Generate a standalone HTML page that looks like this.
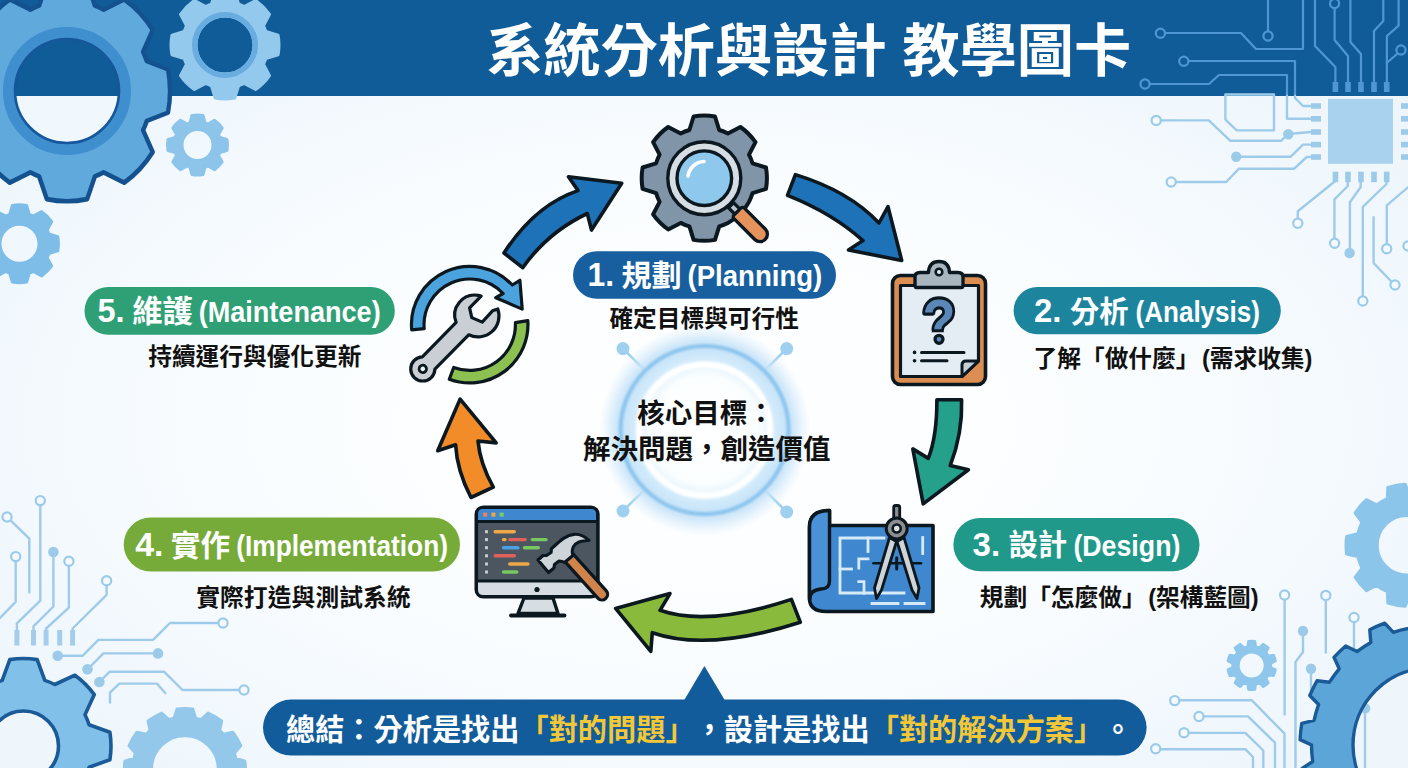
<!DOCTYPE html>
<html lang="zh-Hant">
<head>
<meta charset="utf-8">
<title>系統分析與設計 教學圖卡</title>
<style>
html,body{margin:0;padding:0;}
body{width:1408px;height:768px;overflow:hidden;background:#f4f9fd;font-family:"Liberation Sans","Noto Sans CJK TC",sans-serif;}
svg{display:block;position:absolute;left:0;top:0;}
text{font-family:"Liberation Sans","Noto Sans CJK TC",sans-serif;text-spacing-trim:space-all;}
.t{font-weight:700;fill:#fff;}
.pill{font-weight:700;fill:#fff;}

.sub{font-size:23.7px;font-weight:700;fill:#111;}
.core{font-size:27.5px;font-weight:700;fill:#111;}
.sum{font-size:29.2px;font-weight:700;fill:#fff;}
.y{fill:#f2c838;}
.tr{fill:none;stroke:#9fcbea;stroke-width:2.4;stroke-linecap:round;stroke-linejoin:round;}
.trh{fill:none;stroke:#4f97d3;stroke-width:2.2;stroke-linecap:round;stroke-linejoin:round;}
.no{fill:#f4f9fd;stroke:#9ccbea;stroke-width:2.2;}
.nf{fill:#9ccbea;stroke:none;}
.noh{fill:#105c99;stroke:#4f97d3;stroke-width:2.2;}
.nfh{fill:#4f97d3;}
.ol{stroke:#0c1820;stroke-linejoin:round;stroke-linecap:round;}
</style>
</head>
<body>
<svg width="1408" height="768" viewBox="0 0 1408 768">
<defs>
<radialGradient id="bg" cx="50%" cy="55%" r="60%">
<stop offset="0" stop-color="#ffffff"/><stop offset="0.5" stop-color="#fafdff"/><stop offset="1" stop-color="#eef6fc"/>
</radialGradient>
<radialGradient id="glow" cx="50%" cy="50%" r="50%">
<stop offset="0" stop-color="#ffffff" stop-opacity="1"/>
<stop offset="0.5" stop-color="#fbfeff" stop-opacity="1"/>
<stop offset="0.6" stop-color="#eaf6fd" stop-opacity="1"/>
<stop offset="0.67" stop-color="#d3ebfb" stop-opacity="1"/>
<stop offset="0.79" stop-color="#c4e2f8" stop-opacity="1"/>
<stop offset="0.85" stop-color="#c8e4f9" stop-opacity="0.8"/>
<stop offset="1" stop-color="#d8ecfa" stop-opacity="0"/>
</radialGradient>
<filter id="bl" x="-20%" y="-20%" width="140%" height="140%"><feGaussianBlur stdDeviation="1"/></filter>
<linearGradient id="hole" gradientUnits="userSpaceOnUse" x1="0" y1="0" x2="0" y2="768"><stop offset="0.125" stop-color="#105c99"/><stop offset="0.125" stop-color="#f1f8fd"/></linearGradient>
</defs>
<rect width="1408" height="768" fill="url(#bg)"/>
<rect width="1408" height="96" fill="#105c99"/>

<g id="circuit-tr">
<g class="trh">
<path d="M1165 33H1241L1256 49H1303V0"/>
<path d="M1268 31V0"/>
<path d="M1189 61H1295V96"/>
<path d="M1150 84H1209L1219 75H1287V96"/>
<path d="M1334.6 8V40L1348 56V82"/>
<path d="M1315 0V46L1335.4 67V82"/>
<path d="M1350.4 0V42L1361 54V82"/>
<path d="M1383.3 0V21L1374 31V82"/>
<path d="M1398.6 0V25.7L1386.9 36V82"/>
<path d="M1397 54L1386.7 63"/>
</g>
<rect x="1332.6" y="82" width="5.6" height="10" fill="#4f97d3"/>
<rect x="1345.2" y="82" width="5.6" height="10" fill="#4f97d3"/>
<rect x="1358.2" y="82" width="5.6" height="10" fill="#4f97d3"/>
<rect x="1371.2" y="82" width="5.6" height="10" fill="#4f97d3"/>
<rect x="1383.9" y="82" width="5.6" height="10" fill="#4f97d3"/>
<circle class="noh" cx="1160.4" cy="33.3" r="4.6"/>
<circle class="noh" cx="1268" cy="36" r="4.6"/>
<circle class="noh" cx="1183.8" cy="61.2" r="4.6"/>
<circle class="noh" cx="1145" cy="84" r="4.6"/>
<circle class="noh" cx="1334.6" cy="3.5" r="4.6"/>
<circle class="noh" cx="1401" cy="50" r="4.6"/>
<g class="tr">
<path d="M1295 96V98L1303 106H1311"/>
<path d="M1287 96V118.8H1311"/>
<path d="M1225.4 94.5V119.6L1236.7 130.4H1274V94.5Z"/>
<path d="M1161 120.4H1208.8L1230.4 140.8H1281L1288 134L1311 132"/>
<path d="M1236 156.7H1290.8L1303 144.6H1311"/>
<path d="M1176 182H1226.2L1238.8 168.8H1294L1306.7 157H1311"/>
<path d="M1335.3 181L1297.8 211.3V218.6"/>
<path d="M1347.8 181V186L1334.4 199.3V239"/>
<path d="M1360.7 181V187L1349.9 202.3V250"/>
<path d="M1386.5 181V184L1362.8 206.8V296.4"/>
<path d="M1373.6 217.2V263L1391.8 282"/>
<path d="M1408 187.3L1386.8 205.3V244"/>
</g>
<rect x="1328" y="98.8" width="65" height="65" fill="#a9d2ef"/>
<rect x="1311" y="103.2" width="10" height="5.6" fill="#9ccbea"/>
<rect x="1401" y="103.2" width="8" height="5.6" fill="#9ccbea"/>
<rect x="1311" y="116" width="10" height="5.6" fill="#9ccbea"/>
<rect x="1401" y="116" width="8" height="5.6" fill="#9ccbea"/>
<rect x="1311" y="129.2" width="10" height="5.6" fill="#9ccbea"/>
<rect x="1401" y="129.2" width="8" height="5.6" fill="#9ccbea"/>
<rect x="1311" y="141.8" width="10" height="5.6" fill="#9ccbea"/>
<rect x="1401" y="141.8" width="8" height="5.6" fill="#9ccbea"/>
<rect x="1311" y="154.2" width="10" height="5.6" fill="#9ccbea"/>
<rect x="1401" y="154.2" width="8" height="5.6" fill="#9ccbea"/>
<rect x="1332.6" y="171.7" width="5.6" height="10.5" fill="#9ccbea"/>
<rect x="1345.2" y="171.7" width="5.6" height="10.5" fill="#9ccbea"/>
<rect x="1358.2" y="171.7" width="5.6" height="10.5" fill="#9ccbea"/>
<rect x="1371.2" y="171.7" width="5.6" height="10.5" fill="#9ccbea"/>
<rect x="1383.9" y="171.7" width="5.6" height="10.5" fill="#9ccbea"/>
<circle class="no" cx="1156.2" cy="120.4" r="4.6"/>
<circle class="nf" cx="1288.3" cy="134.2" r="5.2"/>
<circle class="nf" cx="1236.2" cy="156.7" r="5.2"/>
<circle class="no" cx="1171.2" cy="182" r="4.6"/>
<circle class="no" cx="1297.8" cy="223.2" r="4.6"/>
<circle class="no" cx="1334.6" cy="243.3" r="4.6"/>
<circle class="nf" cx="1349.6" cy="253" r="5.2"/>
<circle class="no" cx="1362.8" cy="301" r="4.6"/>
<circle class="no" cx="1395" cy="285" r="4.6"/>
<circle class="no" cx="1386.7" cy="248.8" r="4.6"/>
<circle class="no" cx="1408" cy="246" r="4.6"/>
</g>
<g id="circuit-bl">
<g class="tr">
<path d="M40.3 506V600.6L16.9 623.4V630"/>
<path d="M10.8 520.6L29.3 538.6V592.4"/>
<path d="M15.7 562V601.8L0 618"/>
<path d="M53.4 552V606.5L33.5 626.4V630"/>
<path d="M68.9 566.5V607.7L46.1 628.5V630"/>
<path d="M106.6 586V594.8L72.6 628.5V630"/>
<path d="M57.7 655.8H82.5L98.4 639.9H153L170 623H218"/>
<path d="M87.5 669.3L103.4 653.4H154"/>
<path d="M99.4 682L109.7 671.7H164L182.5 690H239"/>
<path d="M110 702.5V692.6L119.3 683.6H157L165.4 693.2"/>
</g>
<rect x="14.4" y="630" width="5" height="15.5" fill="#a3cdeb"/>
<rect x="31" y="630" width="5" height="15.5" fill="#a3cdeb"/>
<rect x="43.6" y="630" width="5" height="15.5" fill="#a3cdeb"/>
<rect x="57.2" y="630" width="5" height="15.5" fill="#a3cdeb"/>
<rect x="70.1" y="630" width="5" height="15.5" fill="#a3cdeb"/>
<circle class="no" cx="40.3" cy="500.6" r="4.6"/>
<circle class="no" cx="7" cy="517" r="4.6"/>
<circle class="no" cx="15.7" cy="556.6" r="4.6"/>
<circle class="nf" cx="53.4" cy="552" r="5.3"/>
<circle class="no" cx="68.9" cy="561.3" r="4.6"/>
<circle class="no" cx="106.6" cy="580.7" r="4.6"/>
<circle class="nf" cx="57.7" cy="655.8" r="5.3"/>
<circle class="no" cx="223" cy="623" r="4.6"/>
<circle class="nf" cx="87.5" cy="669.3" r="5.3"/>
<circle class="nf" cx="158" cy="653.4" r="5.3"/>
<circle class="nf" cx="99.4" cy="682" r="5.3"/>
<circle class="no" cx="244" cy="690" r="4.6"/>
</g>
<g id="circuit-br">
<g class="tr">
<path d="M1284.6 600V714.6"/>
<path d="M1325.8 600V652.5"/>
<path d="M1354 622V648.6"/>
<path d="M1303 631V652L1295.5 662V768"/>
<path d="M1311 668.8V690"/>
<path d="M1365 707.6V768"/>
<path d="M1180 700.2H1251.7L1284.5 733.7V768"/>
<path d="M1204 716.4H1248L1275 742.7V768"/>
<path d="M1189 732.9H1245.3L1263.3 750.5V768"/>
<path d="M1160.5 749.2H1245.3L1253 757V768"/>
</g>
<circle class="no" cx="1284.6" cy="595" r="4.6"/>
<circle class="no" cx="1325.8" cy="595.4" r="4.6"/>
<circle class="no" cx="1354" cy="617.5" r="4.6"/>
<circle class="nf" cx="1303" cy="631" r="5.2"/>
<circle class="nf" cx="1311" cy="668.8" r="5.2"/>
<circle class="nf" cx="1365.2" cy="708.4" r="5.2"/>
<circle class="no" cx="1174.7" cy="700.6" r="4.6"/>
<circle class="no" cx="1199" cy="716.5" r="4.6"/>
<circle class="no" cx="1184" cy="732.8" r="4.6"/>
<circle class="no" cx="1155.7" cy="748.7" r="4.6"/>
</g>
<g id="gears">
<g transform="translate(67 91) scale(1 1.07) translate(-67 -91)">
<path d="M146.8 63.1L168 70.8A103 103 0 0 1 168 111.2L146.8 118.9A84.5 84.5 0 0 1 143.1 127.6L152.7 148.1A103 103 0 0 1 124.1 176.7L103.6 167.1A84.5 84.5 0 0 1 94.9 170.8L87.2 192A103 103 0 0 1 46.8 192L39.1 170.8A84.5 84.5 0 0 1 30.4 167.1L9.9 176.7A103 103 0 0 1 -18.7 148.1L-9.1 127.6A84.5 84.5 0 0 1 -12.8 118.9L-34 111.2A103 103 0 0 1 -34 70.8L-12.8 63.1A84.5 84.5 0 0 1 -9.1 54.4L-18.7 33.9A103 103 0 0 1 9.9 5.3L30.4 14.9A84.5 84.5 0 0 1 39.1 11.2L46.8 -10A103 103 0 0 1 87.2 -10L94.9 11.2A84.5 84.5 0 0 1 103.6 14.9L124.1 5.3A103 103 0 0 1 152.7 33.9L143.1 54.4A84.5 84.5 0 0 1 146.8 63.1Z" fill="#60a9dd" stroke="#14528f" stroke-width="4.4" stroke-linejoin="round" fill-rule="evenodd"/>
</g>
<circle cx="67" cy="91" r="52" fill="url(#hole)"/>
<circle cx="67" cy="91" r="58" fill="none" stroke="#3f8fcf" stroke-width="12"/>
<circle cx="67" cy="91" r="52" fill="none" stroke="#15579a" stroke-width="2.6"/>
<path d="M265.8 31.4L278.1 35.2A54 54 0 0 1 278.1 54.8L265.8 58.6A43 43 0 0 1 263.5 64.2L269.5 75.6A54 54 0 0 1 255.6 89.5L244.2 83.5A43 43 0 0 1 238.6 85.8L234.8 98.1A54 54 0 0 1 215.2 98.1L211.4 85.8A43 43 0 0 1 205.8 83.5L194.4 89.5A54 54 0 0 1 180.5 75.6L186.5 64.2A43 43 0 0 1 184.2 58.6L171.9 54.8A54 54 0 0 1 171.9 35.2L184.2 31.4A43 43 0 0 1 186.5 25.8L180.5 14.4A54 54 0 0 1 194.4 0.5L205.8 6.5A43 43 0 0 1 211.4 4.2L215.2 -8.1A54 54 0 0 1 234.8 -8.1L238.6 4.2A43 43 0 0 1 244.2 6.5L255.6 0.5A54 54 0 0 1 269.5 14.4L263.5 25.8A43 43 0 0 1 265.8 31.4ZM254 45A29 29 0 1 0 196 45A29 29 0 1 0 254 45Z" fill="#93c9ed" stroke="#93c9ed" stroke-width="3" stroke-linejoin="round" fill-rule="evenodd"/>
<circle cx="225" cy="45" r="30.25" fill="none" stroke="#69ade0" stroke-width="5.5"/>
<path d="M219.8 137.5L227 139.5A30 30 0 0 1 227 150.5L219.8 152.5A23.5 23.5 0 0 1 218.5 155.5L222.2 162A30 30 0 0 1 214.5 169.7L208 166A23.5 23.5 0 0 1 205 167.3L203 174.5A30 30 0 0 1 192 174.5L190 167.3A23.5 23.5 0 0 1 187 166L180.5 169.7A30 30 0 0 1 172.8 162L176.5 155.5A23.5 23.5 0 0 1 175.2 152.5L168 150.5A30 30 0 0 1 168 139.5L175.2 137.5A23.5 23.5 0 0 1 176.5 134.5L172.8 128A30 30 0 0 1 180.5 120.3L187 124A23.5 23.5 0 0 1 190 122.7L192 115.5A30 30 0 0 1 203 115.5L205 122.7A23.5 23.5 0 0 1 208 124L214.5 120.3A30 30 0 0 1 222.2 128L218.5 134.5A23.5 23.5 0 0 1 219.8 137.5ZM213 145A15.5 15.5 0 1 0 182 145A15.5 15.5 0 1 0 213 145Z" fill="#8cc4ea" stroke="#8cc4ea" stroke-width="3" stroke-linejoin="round" fill-rule="evenodd"/>
<path d="M48.9 234L57.8 236.7A39 39 0 0 1 57.8 250.9L48.9 253.6A31 31 0 0 1 47.2 257.6L51.6 265.9A39 39 0 0 1 41.6 275.9L33.3 271.5A31 31 0 0 1 29.3 273.2L26.6 282.1A39 39 0 0 1 12.4 282.1L9.7 273.2A31 31 0 0 1 5.7 271.5L-2.6 275.9A39 39 0 0 1 -12.6 265.9L-8.2 257.6A31 31 0 0 1 -9.9 253.6L-18.8 250.9A39 39 0 0 1 -18.8 236.7L-9.9 234A31 31 0 0 1 -8.2 230L-12.6 221.7A39 39 0 0 1 -2.6 211.7L5.7 216.1A31 31 0 0 1 9.7 214.4L12.4 205.5A39 39 0 0 1 26.6 205.5L29.3 214.4A31 31 0 0 1 33.3 216.1L41.6 211.7A39 39 0 0 1 51.6 221.7L47.2 230A31 31 0 0 1 48.9 234ZM39 243.8A19.5 19.5 0 1 0 0 243.8A19.5 19.5 0 1 0 39 243.8Z" fill="#7dbde8" stroke="#7dbde8" stroke-width="3" stroke-linejoin="round" fill-rule="evenodd"/>
<path d="M1357.8 556.6L1346.6 554A61 61 0 0 1 1346.6 536.4L1357.8 533.8A50.5 50.5 0 0 1 1362 522.3L1355.1 513.1A61 61 0 0 1 1366.4 499.7L1376.6 504.9A50.5 50.5 0 0 1 1387.3 498.7L1387.8 487.3A61 61 0 0 1 1405.2 484.2L1409.6 494.8A50.5 50.5 0 0 1 1421.8 496.9L1429.6 488.5A61 61 0 0 1 1444.8 497.3L1441.4 508.3A50.5 50.5 0 0 1 1449.4 517.7L1460.7 516.3A61 61 0 0 1 1466.7 532.8L1457.1 539A50.5 50.5 0 0 1 1457.1 551.4L1466.7 557.6A61 61 0 0 1 1460.7 574.1L1449.4 572.7A50.5 50.5 0 0 1 1441.4 582.1L1444.8 593.1A61 61 0 0 1 1429.6 601.9L1421.8 593.5A50.5 50.5 0 0 1 1409.6 595.6L1405.2 606.2A61 61 0 0 1 1387.8 603.1L1387.3 591.7A50.5 50.5 0 0 1 1376.6 585.5L1366.4 590.7A61 61 0 0 1 1355.1 577.3L1362 568.1A50.5 50.5 0 0 1 1357.8 556.6ZM1436.8 545.2A29.8 29.8 0 1 0 1377.2 545.2A29.8 29.8 0 1 0 1436.8 545.2Z" fill="#8cc5ea" stroke="#8cc5ea" stroke-width="3" stroke-linejoin="round" fill-rule="evenodd"/>
<path d="M1247.3 646.4L1248.3 641.1A24.5 24.5 0 0 1 1255.1 641.1L1256.1 646.4A19.5 19.5 0 0 1 1259.3 647.5L1263.2 643.8A24.5 24.5 0 0 1 1268.7 647.8L1266.4 652.6A19.5 19.5 0 0 1 1268.4 655.4L1273.7 654.7A24.5 24.5 0 0 1 1275.8 661.1L1271.1 663.7A19.5 19.5 0 0 1 1271.1 667.1L1275.8 669.7A24.5 24.5 0 0 1 1273.7 676.1L1268.4 675.4A19.5 19.5 0 0 1 1266.4 678.2L1268.7 683A24.5 24.5 0 0 1 1263.2 687L1259.3 683.3A19.5 19.5 0 0 1 1256.1 684.4L1255.1 689.7A24.5 24.5 0 0 1 1248.3 689.7L1247.3 684.4A19.5 19.5 0 0 1 1244.1 683.3L1240.2 687A24.5 24.5 0 0 1 1234.7 683L1237 678.2A19.5 19.5 0 0 1 1235 675.4L1229.7 676.1A24.5 24.5 0 0 1 1227.6 669.7L1232.3 667.1A19.5 19.5 0 0 1 1232.3 663.7L1227.6 661.1A24.5 24.5 0 0 1 1229.7 654.7L1235 655.4A19.5 19.5 0 0 1 1237 652.6L1234.7 647.8A24.5 24.5 0 0 1 1240.2 643.8L1244.1 647.5A19.5 19.5 0 0 1 1247.3 646.4ZM1264.7 665.4A13 13 0 1 0 1238.7 665.4A13 13 0 1 0 1264.7 665.4Z" fill="#8fc6ec" stroke="#8fc6ec" stroke-width="2" stroke-linejoin="round" fill-rule="evenodd"/>
<path d="M1548.5 745L1559.9 750.4A130 130 0 0 1 1558.2 766.7L1545.9 769.6A118.5 118.5 0 0 1 1541.4 785.5L1550.2 794.5A130 130 0 0 1 1543 809.2L1530.5 807.8A118.5 118.5 0 0 1 1520.8 821.2L1526 832.7A130 130 0 0 1 1514.3 844L1503 838.4A118.5 118.5 0 0 1 1489.2 847.6L1490.2 860.2A130 130 0 0 1 1475.3 866.8L1466.6 857.7A118.5 118.5 0 0 1 1450.6 861.7L1447.2 873.9A130 130 0 0 1 1430.9 875L1425.9 863.4A118.5 118.5 0 0 1 1409.4 861.7L1402.1 872A130 130 0 0 1 1386.4 867.5L1385.6 854.9A118.5 118.5 0 0 1 1370.8 847.6L1360.3 854.8A130 130 0 0 1 1347.1 845.2L1350.7 833.1A118.5 118.5 0 0 1 1339.2 821.2L1327 824.3A130 130 0 0 1 1317.9 810.8L1325.4 800.6A118.5 118.5 0 0 1 1318.6 785.5L1306.1 784.3A130 130 0 0 1 1302.1 768.5L1312.7 761.5A118.5 118.5 0 0 1 1311.5 745L1300.1 739.6A130 130 0 0 1 1301.8 723.3L1314.1 720.4A118.5 118.5 0 0 1 1318.6 704.5L1309.8 695.5A130 130 0 0 1 1317 680.8L1329.5 682.2A118.5 118.5 0 0 1 1339.2 668.8L1334 657.3A130 130 0 0 1 1345.7 646L1357 651.6A118.5 118.5 0 0 1 1370.8 642.4L1369.8 629.8A130 130 0 0 1 1384.7 623.2L1393.4 632.3A118.5 118.5 0 0 1 1409.4 628.3L1412.8 616.1A130 130 0 0 1 1429.1 615L1434.1 626.6A118.5 118.5 0 0 1 1450.6 628.3L1457.9 618A130 130 0 0 1 1473.6 622.5L1474.4 635.1A118.5 118.5 0 0 1 1489.2 642.4L1499.7 635.2A130 130 0 0 1 1512.9 644.8L1509.3 656.9A118.5 118.5 0 0 1 1520.8 668.8L1533 665.7A130 130 0 0 1 1542.1 679.2L1534.6 689.4A118.5 118.5 0 0 1 1541.4 704.5L1553.9 705.7A130 130 0 0 1 1557.9 721.5L1547.3 728.5A118.5 118.5 0 0 1 1548.5 745ZM1507 745A77 77 0 1 0 1353 745A77 77 0 1 0 1507 745Z" fill="#5ba5d8" stroke="#1a5a96" stroke-width="3.4" stroke-linejoin="round" fill-rule="evenodd"/>
<path d="M89.1 724.7L109.9 732.3A87.5 87.5 0 0 1 109.9 759.7L89.1 767.3A69 69 0 0 1 85 777.3L94.3 797.4A87.5 87.5 0 0 1 74.9 816.8L54.8 807.5A69 69 0 0 1 44.8 811.6L37.2 832.4A87.5 87.5 0 0 1 9.8 832.4L2.2 811.6A69 69 0 0 1 -7.8 807.5L-27.9 816.8A87.5 87.5 0 0 1 -47.3 797.4L-38 777.3A69 69 0 0 1 -42.1 767.3L-62.9 759.7A87.5 87.5 0 0 1 -62.9 732.3L-42.1 724.7A69 69 0 0 1 -38 714.7L-47.3 694.6A87.5 87.5 0 0 1 -27.9 675.2L-7.8 684.5A69 69 0 0 1 2.2 680.4L9.8 659.6A87.5 87.5 0 0 1 37.2 659.6L44.8 680.4A69 69 0 0 1 54.8 684.5L74.9 675.2A87.5 87.5 0 0 1 94.3 694.6L85 714.7A69 69 0 0 1 89.1 724.7ZM58.5 746A35 35 0 1 0 -11.5 746A35 35 0 1 0 58.5 746Z" fill="#80c0e9" stroke="#1a5a96" stroke-width="3.6" stroke-linejoin="round" fill-rule="evenodd"/>
<path d="M174.1 718.1L177 709A60.5 60.5 0 0 1 192.8 709L195.7 718.1A52 52 0 0 1 201 719.5L208.1 713.1A60.5 60.5 0 0 1 221.7 721L219.7 730.4A52 52 0 0 1 223.5 734.2L232.9 732.2A60.5 60.5 0 0 1 240.8 745.8L234.4 752.9A52 52 0 0 1 235.8 758.2L244.9 761.1A60.5 60.5 0 0 1 244.9 776.9L235.8 779.8A52 52 0 0 1 234.4 785.1L240.8 792.2A60.5 60.5 0 0 1 232.9 805.8L223.5 803.8A52 52 0 0 1 219.7 807.6L221.7 817A60.5 60.5 0 0 1 208.1 824.9L201 818.5A52 52 0 0 1 195.7 819.9L192.8 829A60.5 60.5 0 0 1 177 829L174.1 819.9A52 52 0 0 1 168.8 818.5L161.7 824.9A60.5 60.5 0 0 1 148.1 817L150.1 807.6A52 52 0 0 1 146.3 803.8L136.9 805.8A60.5 60.5 0 0 1 129 792.2L135.4 785.1A52 52 0 0 1 134 779.8L124.9 776.9A60.5 60.5 0 0 1 124.9 761.1L134 758.2A52 52 0 0 1 135.4 752.9L129 745.8A60.5 60.5 0 0 1 136.9 732.2L146.3 734.2A52 52 0 0 1 150.1 730.4L148.1 721A60.5 60.5 0 0 1 161.7 713.1L168.8 719.5A52 52 0 0 1 174.1 718.1ZM218.2 769A33.3 33.3 0 1 0 151.6 769A33.3 33.3 0 1 0 218.2 769Z" fill="#93c8eb" stroke="#93c8eb" stroke-width="3" stroke-linejoin="round" fill-rule="evenodd"/>
</g>
<g id="core">
<g stroke="#9fd0f0" stroke-width="2.6" stroke-linecap="round">
<line x1="623" y1="348.6" x2="645.1" y2="370.7"/>
<line x1="786.7" y1="348.6" x2="764.3" y2="370.9"/>
<line x1="623" y1="511" x2="645" y2="489.2"/>
<line x1="786.7" y1="512" x2="764" y2="489.4"/>
</g>
<circle cx="623" cy="348.6" r="6.5" fill="#9fd0f0"/>
<circle cx="786.7" cy="348.6" r="6.5" fill="#9fd0f0"/>
<circle cx="623" cy="511" r="6.5" fill="#9fd0f0"/>
<circle cx="786.7" cy="512" r="6.5" fill="#9fd0f0"/>
<circle cx="704.6" cy="430" r="106" fill="url(#glow)"/>
<circle cx="704.6" cy="430" r="84" fill="none" stroke="#8cc5ee" stroke-width="4" filter="url(#bl)"/>
<circle cx="704.6" cy="430" r="65.5" fill="none" stroke="#ffffff" stroke-width="6" filter="url(#bl)"/>
</g>
<g id="arrows" class="ol" stroke-width="3.6">
<path fill="#1e72b7" d="M504 253Q535 205 578 190.6L568.5 176.7L621.7 183.3L591.5 230L587.3 213.5Q548 232 522.7 267.7Z"/>
<path fill="#1e72b7" d="M795.4 174.6Q849 191 879 223L888 206.7L901.7 260.4L848.5 250L863 240.6Q832 213 787.5 195.4Z"/>
<path fill="#25a08a" d="M936.9 399.7H961.6Q962.7 433 950.2 465.6L968.4 469.7L923.2 503.9L912.8 448.9L928.3 458.4Q937 436 936.9 399.7Z"/>
<path fill="#8aba3c" d="M791.4 599.4L800.3 622.2Q708 652 652.3 632.7L650.8 651.4L615.6 608.4L670 593.6L660 610.3Q708 627 791.4 599.4Z"/>
<path fill="#f28c28" d="M460.1 399.1L496.2 442.9L478 441Q480 463.6 493.3 487.2L471 497.5Q457 471 455.6 444.7L437.7 450.7Z"/>
</g>
<g id="ic1">
<path class="ol" stroke-width="4" fill="#8195a8" d="M689.4 130L693.6 116.5A62.6 62.6 0 0 1 715 116.5L719.2 130A50.5 50.5 0 0 1 727.9 133.5L740.4 127A62.6 62.6 0 0 1 755.5 142.1L749 154.6A50.5 50.5 0 0 1 752.5 163.3L766 167.5A62.6 62.6 0 0 1 766 188.9L752.5 193.1A50.5 50.5 0 0 1 749 201.8A50.5 50.5 0 0 1 727.9 222.9A50.5 50.5 0 0 1 719.2 226.4L715 239.9A62.6 62.6 0 0 1 693.6 239.9L689.4 226.4A50.5 50.5 0 0 1 680.7 222.9L668.2 229.4A62.6 62.6 0 0 1 653.1 214.3L659.6 201.8A50.5 50.5 0 0 1 656.1 193.1L642.6 188.9A62.6 62.6 0 0 1 642.6 167.5L656.1 163.3A50.5 50.5 0 0 1 659.6 154.6L653.1 142.1A62.6 62.6 0 0 1 668.2 127L680.7 133.5A50.5 50.5 0 0 1 689.4 130Z"/>
<circle class="ol" cx="704.3" cy="178.2" r="36.5" fill="#d6dee4" stroke-width="3.4"/>
<g transform="translate(737.4 211.6) rotate(45)">
<path class="ol" stroke-width="3.2" fill="#b4c3cd" d="M-9 -3.6H1V3.6H-9Z"/>
<path class="ol" stroke-width="3.3" fill="#e5935a" d="M2.5 -7.4H32A7.4 7.4 0 0 1 32 7.4H2.5A2.5 2.5 0 0 1 0 4.9V-4.9A2.5 2.5 0 0 1 2.5 -7.4Z"/>
</g>
<circle class="ol" cx="704.3" cy="178.2" r="27.3" fill="#8ec8ec" stroke-width="3.4"/>
<path d="M688 176A17 17 0 0 1 704 161.5" fill="none" stroke="#fff" stroke-width="3.6" stroke-linecap="round"/>
</g>
<g id="ic2">
<rect class="ol" x="892.5" y="275.5" width="93" height="109" rx="8" fill="#dc8e52" stroke-width="3.6"/>
<path class="ol" stroke-width="3.2" fill="#e4edf4" d="M900.5 285.5H978.5V361L962 376.5H900.5Z"/>
<path class="ol" stroke-width="3" fill="#c3ced6" d="M962 376.5V365Q962 361 966 361H978.5Z"/>
<path class="ol" stroke-width="3.4" fill="#a9b6bf" d="M916.5 287.5Q915 287.5 915 285V277Q915 272.5 920 272.5H928.5Q929 261.5 939 261.5Q949 261.5 949.5 272.5H958Q963 272.5 963 277V285Q963 287.5 961.5 287.5Z"/>
<circle cx="939" cy="272" r="3.3" fill="#e4edf4" stroke="#0c1820" stroke-width="2.6"/>
<clipPath id="qc"><rect x="915" y="288" width="50" height="44.3"/></clipPath>
<g clip-path="url(#qc)"><text x="939" y="341.5" text-anchor="middle" font-size="62" font-weight="700" fill="#5a86b8" stroke="#0c1820" stroke-width="6.4" stroke-linejoin="round" paint-order="stroke" textLength="33" lengthAdjust="spacingAndGlyphs">?</text></g>
<circle cx="939" cy="339.3" r="4" fill="#5a86b8" stroke="#0c1820" stroke-width="3.2"/>
<g stroke="#0c1820" stroke-width="2.6" stroke-linecap="round"><path d="M921.5 352.4H964M921.5 360.8H947" stroke-width="3"/><path d="M914.5 352.4h0.1M914.5 360.8h0.1" stroke-width="3.6"/></g>
</g>
<g id="ic3">
<path class="ol" stroke-width="3.6" fill="#3f87cf" d="M809.5 598V527Q809.5 510.5 829.5 510.5V525.5H933V611.5H826Q809.5 611.5 809.5 598Z"/>
<path class="ol" stroke-width="3.4" fill="#4a92d8" d="M829.5 510.5V581Q829.5 589 821 589Q809.5 590 809.5 600V527Q809.5 510.5 829.5 510.5Z"/>
<g fill="none" stroke="#d6eafa" stroke-width="2.8" stroke-linecap="square">
<path d="M884 538H840V593H904"/>
<path d="M868 538V551.5"/>
<path d="M868 558.8H858.8V568"/>
<path d="M840 569H851.5"/>
<path d="M858.8 581.7H864V593"/>
<path d="M922.7 537.5V553.5"/>
<path d="M872 603.5H898M905 603.5H924"/>
</g>
<path d="M873.5 563.3H921" stroke="#0c1820" stroke-width="2.6" stroke-linecap="round"/>
<path d="M896.7 557.7V569" stroke="#0c1820" stroke-width="3" stroke-linecap="round"/>
<path class="ol" stroke-width="2.8" fill="#cfd4d8" d="M889.5 537.5L896.5 541.5L881.5 590L876.5 598.5L874.5 588Z"/>
<path class="ol" stroke-width="2.8" fill="#cfd4d8" d="M904 537.5L897 541.5L912 590L917 598.5L919 588Z"/>
<rect class="ol" x="893.7" y="505.5" width="6" height="14" rx="2" fill="#8d8f91" stroke-width="2.8"/>
<circle class="ol" cx="896.7" cy="528.5" r="10.5" fill="#8b8d8f" stroke-width="3"/>
<circle class="ol" cx="896.7" cy="528.5" r="4" fill="#dcdfe1" stroke-width="2.6"/>
</g>
<g id="ic4">
<path class="ol" stroke-width="3.4" fill="#d6dee4" d="M524 598L518 613.5H558L553 598Z"/>
<path d="M511 615.5H564.5" stroke="#0c1820" stroke-width="3.8" stroke-linecap="round"/>
<rect class="ol" x="476.3" y="507.3" width="121.6" height="89.5" rx="7" fill="#4b5661" stroke-width="3.6"/>
<path d="M478 521V514Q478 509 483 509H591Q596 509 596 514V521Z" fill="#3f87cf"/>
<path d="M478 581H596V589.5Q596 595 590.5 595H483.5Q478 595 478 589.5Z" fill="#d6dee4"/>
<path d="M477 521.5H597M477 581H597" stroke="#0c1820" stroke-width="3"/>
<circle cx="537" cy="589.5" r="2.6" fill="#0c1820"/>
<rect x="483" y="512.5" width="4.2" height="4.2" rx="1" fill="#e8806a"/>
<rect x="491.3" y="512.5" width="4.2" height="4.2" rx="1" fill="#e8a84a"/>
<rect x="499.6" y="512.5" width="4.2" height="4.2" rx="1" fill="#7ac96a"/>
<rect x="485" y="530.2" width="3" height="3" fill="#c5cdd3"/>
<rect x="485" y="538.1" width="3" height="3" fill="#c5cdd3"/>
<rect x="485" y="546.2" width="3" height="3" fill="#c5cdd3"/>
<rect x="485" y="554.3" width="3" height="3" fill="#c5cdd3"/>
<rect x="485" y="562.5" width="3" height="3" fill="#c5cdd3"/>
<rect x="485" y="570.5" width="3" height="3" fill="#c5cdd3"/>
<path d="M495.2 531.7H514.3" stroke="#f0a848" stroke-width="3.4" stroke-linecap="round"/>
<path d="M503.5 539.6H505" stroke="#f0a848" stroke-width="3.4" stroke-linecap="round"/>
<path d="M509.8 539.6H525.2" stroke="#e0605a" stroke-width="3.4" stroke-linecap="round"/>
<path d="M532.3 539.6H546" stroke="#78c860" stroke-width="3.4" stroke-linecap="round"/>
<path d="M503.5 547.7H517.9" stroke="#4aa0e0" stroke-width="3.4" stroke-linecap="round"/>
<path d="M524.5 547.7H538.3" stroke="#78c860" stroke-width="3.4" stroke-linecap="round"/>
<path d="M495.2 555.8H514.3" stroke="#e0605a" stroke-width="3.4" stroke-linecap="round"/>
<path d="M509.8 564H527.9" stroke="#f0a848" stroke-width="3.4" stroke-linecap="round"/>
<path d="M503.5 572H516.8" stroke="#78c860" stroke-width="3.4" stroke-linecap="round"/>
<g transform="translate(570.2 559.1) rotate(48)"><path class="ol" stroke-width="3.2" fill="#d0834b" d="M-2 -5.6H47.5A5.6 5.6 0 0 1 47.5 5.6H-2Z"/></g>
<path class="ol" stroke-width="3.2" fill="#cdd4da" d="M589 540.3C584 535.5 578 534 574 534.3C566 535 560 541 551.5 548.5L551 552.5L546.5 555.5L543 555.5L538 560L548.5 572.5L554 568L554.5 564.5L559 561Q562 561 564.5 562.5L572.9 555.5C571 549 574 544 579 542C583 540.5 586 541 589 540.3Z"/>
</g>
<g id="ic5">
<path class="ol" stroke-width="3.2" fill="#4aa3dc" d="M411.7 329.8A58.2 58.2 0 0 1 512.3 285L519.9 280.3L522.2 309.1L495.8 297.7L503.1 293.5A45.7 45.7 0 0 0 424.2 328.7Z"/>
<path class="ol" stroke-width="3.2" fill="#8cc152" d="M527.8 320.6A58.2 58.2 0 0 1 449.3 379.2L453.7 367.5A45.7 45.7 0 0 0 515.4 322.7Z"/>
<g transform="translate(422.8 368.9) rotate(-45.5)">
<path class="ol" stroke-width="3.2" fill="#c9cfd4" d="M8.3 -8.8L56.5 -8.8A20 20 0 0 1 91.3 -12L92.8 -9.4L76.3 -9.4L70.9 -1L75 9.6L90.3 9L95.3 11.5A21 21 0 0 1 56.5 8.8L8.3 8.8A12.1 12.1 0 1 1 8.3 -8.8Z"/>
<circle cx="0" cy="0" r="3.7" fill="#f4f9fd" stroke="#0c1820" stroke-width="2.8"/>
</g>
</g>
<g id="pills">
<rect x="573" y="251.3" width="263" height="47.4" rx="23.7" fill="#175f9f"/>
<rect x="1013.6" y="287" width="267.2" height="47.3" rx="23.7" fill="#1c859d"/>
<rect x="953.4" y="518" width="246.1" height="53.3" rx="26.6" fill="#20988a"/>
<rect x="123.7" y="517.5" width="336.3" height="54" rx="27" fill="#77ab39"/>
<rect x="84.5" y="287" width="310.3" height="47.7" rx="23.8" fill="#2fa076"/>
</g>
<g id="summary">
<rect x="263" y="699.6" width="883.6" height="56" rx="28" fill="#125c9c"/>
<path d="M684 700.5L704.4 666L725 700.5Z" fill="#125c9c"/>
</g>
<g id="texts">
<text class="t" x="486.3" y="71" font-size="57.2">系統分析與設計 教學圖卡</text>
<text class="pill" x="587.5" y="285.8" font-size="32.8" textLength="26.6" lengthAdjust="spacingAndGlyphs">1.</text>
<text class="pill" x="621.5" y="285.5" font-size="30.1">規劃</text>
<text class="pill" x="687.5" y="285.8" font-size="28.9" textLength="134.8" lengthAdjust="spacingAndGlyphs">(Planning)</text>
<text class="pill" x="1034" y="321.8" font-size="32.8" textLength="27.5" lengthAdjust="spacingAndGlyphs">2.</text>
<text class="pill" x="1070" y="321.5" font-size="29.3">分析</text>
<text class="pill" x="1135.5" y="321.8" font-size="28.9" textLength="124.5" lengthAdjust="spacingAndGlyphs">(Analysis)</text>
<text class="pill" x="972.6" y="555.7" font-size="32.8" textLength="27.5" lengthAdjust="spacingAndGlyphs">3.</text>
<text class="pill" x="1008.4" y="555.4" font-size="29.4">設計</text>
<text class="pill" x="1073.4" y="555.7" font-size="28.9" textLength="107" lengthAdjust="spacingAndGlyphs">(Design)</text>
<text class="pill" x="135.2" y="555.8" font-size="32.8" textLength="28.2" lengthAdjust="spacingAndGlyphs">4.</text>
<text class="pill" x="170.8" y="555.5" font-size="29.6">實作</text>
<text class="pill" x="236.2" y="555.8" font-size="28.9" textLength="211.8" lengthAdjust="spacingAndGlyphs">(Implementation)</text>
<text class="pill" x="97.5" y="321.8" font-size="32.8" textLength="27.1" lengthAdjust="spacingAndGlyphs">5.</text>
<text class="pill" x="132.2" y="321.5" font-size="30.3">維護</text>
<text class="pill" x="198.7" y="321.8" font-size="28.9" textLength="182" lengthAdjust="spacingAndGlyphs">(Maintenance)</text>
<text class="sub" x="609.4" y="327.3">確定目標與可行性</text>
<text class="sub" x="1033.6" y="366.5">了解「做什麼」<tspan dx="2.5">(需求收集)</tspan></text>
<text class="sub" x="979.8" y="606">規劃「怎麼做」<tspan dx="2.5">(架構藍圖)</tspan></text>
<text class="sub" x="196.2" y="605.8" letter-spacing="0.15">實際打造與測試系統</text>
<text class="sub" x="148.2" y="365.3">持續運行與優化更新</text>
<text class="core" x="637.3" y="423">核心目標：</text>
<text class="core" x="583" y="459">解決問題，創造價值</text>
<text class="sum" x="286" y="739.5">總結：分析是找出<tspan class="y">「對的問題」</tspan>，設計是找出<tspan class="y">「對的解決方案」</tspan>。</text>
</g>
</svg>
</body>
</html>
